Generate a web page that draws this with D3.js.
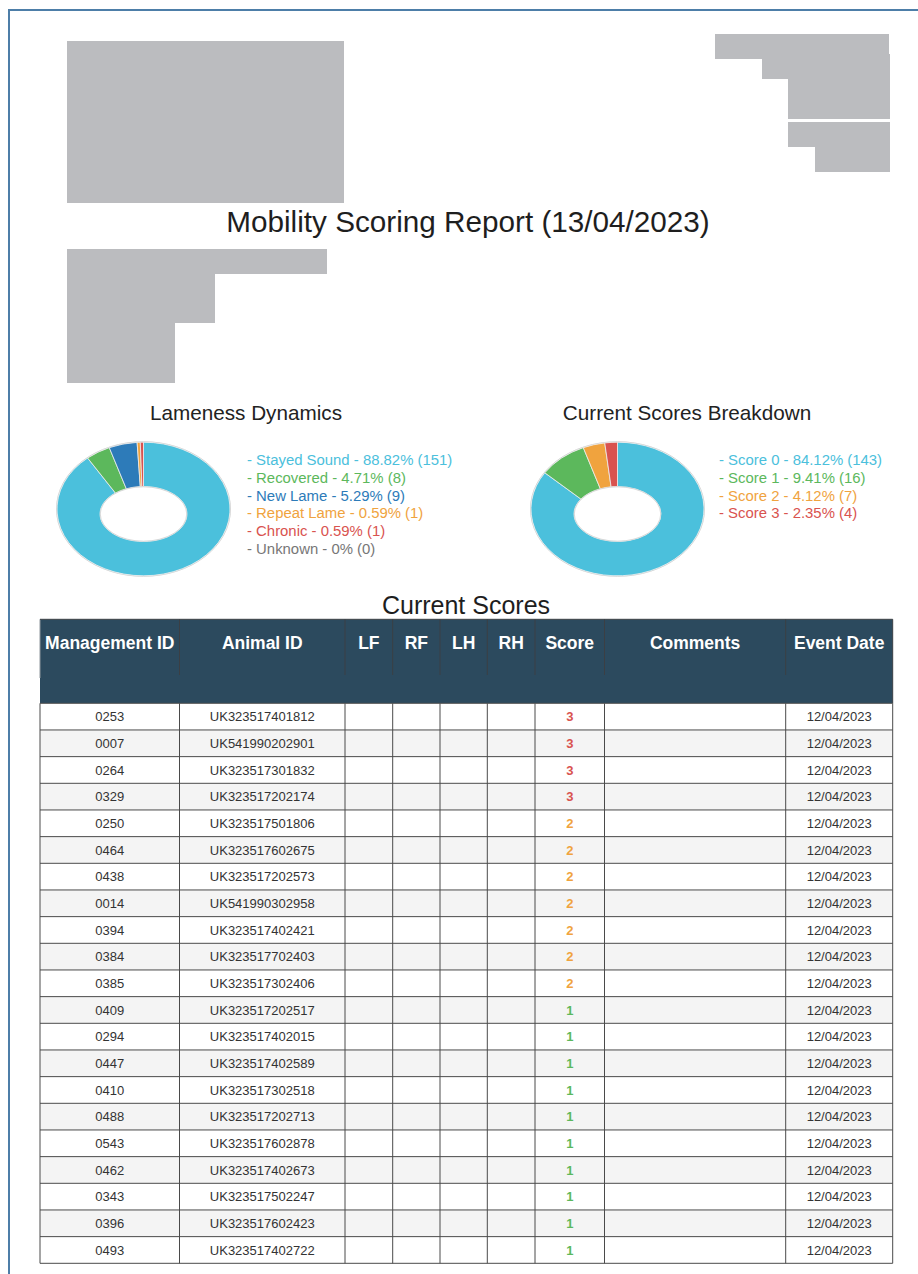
<!DOCTYPE html>
<html>
<head>
<meta charset="utf-8">
<script src="https://cdn.jsdelivr.net/npm/d3@7/dist/d3.min.js"></script>
<style>
  html, body { margin: 0; padding: 0; background: #fff; }
  svg { display: block; font-family: "Liberation Sans", Arial, Helvetica, sans-serif; }
</style>
</head>
<body>
<svg id="page" width="918" height="1274"></svg>
<script>
// ---------------- DATA ----------------
const reportTitle = "Mobility Scoring Report (13/04/2023)";

const lamenessTitle = "Lameness Dynamics";
const lamenessLabels = ["Stayed Sound", "Recovered", "New Lame", "Repeat Lame", "Chronic", "Unknown"];
const lamenessCounts = [151, 8, 9, 1, 1, 0];
const lamenessColors = ["#4bc0dc", "#5cb85c", "#2d7bb9", "#f0a33e", "#d9534f", "#777777"];

const scoresTitle = "Current Scores Breakdown";
const scoreLabels = ["Score 0", "Score 1", "Score 2", "Score 3"];
const scoreCounts = [143, 16, 7, 4];
const scoreColors = ["#4bc0dc", "#5cb85c", "#f0a33e", "#d9534f"];

const tableTitle = "Current Scores";
const tableHeaders = ["Management ID", "Animal ID", "LF", "RF", "LH", "RH", "Score", "Comments", "Event Date"];
const managementIds = ["0253","0007","0264","0329","0250","0464","0438","0014","0394","0384","0385",
                       "0409","0294","0447","0410","0488","0543","0462","0343","0396","0493"];
const animalIds = ["UK323517401812","UK541990202901","UK323517301832","UK323517202174","UK323517501806",
                   "UK323517602675","UK323517202573","UK541990302958","UK323517402421","UK323517702403",
                   "UK323517302406","UK323517202517","UK323517402015","UK323517402589","UK323517302518",
                   "UK323517202713","UK323517602878","UK323517402673","UK323517502247","UK323517602423",
                   "UK323517402722"];
const scores = [3,3,3,3,2,2,2,2,2,2,2,1,1,1,1,1,1,1,1,1,1];
const eventDates = Array(21).fill("12/04/2023");

// ---------------- LAYOUT ----------------
const svg = d3.select("#page");

// page frame (blue left/top border)
svg.append("line").attr("x1", 9).attr("x2", 918).attr("y1", 10).attr("y2", 10)
  .attr("stroke", "#4d7ea8").attr("stroke-width", 2);
svg.append("line").attr("x1", 9).attr("x2", 9).attr("y1", 9).attr("y2", 1274)
  .attr("stroke", "#4d7ea8").attr("stroke-width", 2);

// redacted blocks (grey)
const redacted = [
  [67, 41, 277, 162],
  [715, 34, 174, 25], [762, 54, 128, 25], [788, 79, 102, 40],
  [788, 122, 102, 25], [815, 147, 75, 25],
  [67, 249, 260, 25], [67, 274, 148, 49], [67, 323, 108, 60]
];
svg.append("g").selectAll("rect").data(redacted).join("rect")
  .attr("x", d => d[0]).attr("y", d => d[1]).attr("width", d => d[2]).attr("height", d => d[3])
  .attr("fill", "#bbbcbf");

// main title
svg.append("text").attr("x", 468).attr("y", 232).attr("text-anchor", "middle")
  .attr("font-size", 29.7).attr("fill", "#1e1e1e").text(reportTitle);

// ---------------- DONUTS ----------------
function ellipseSlice(d, c) {
  const a0 = d.startAngle, a1 = d.endAngle;
  const large = (a1 - a0) > Math.PI ? 1 : 0;
  const op = a => [c.cx + c.Rx * Math.sin(a), c.cy - c.Ry * Math.cos(a)];
  const ip = a => [c.cx + c.rx * Math.sin(a), c.cy + c.dy - c.ry * Math.cos(a)];
  const o0 = op(a0), o1 = op(a1), i0 = ip(a0), i1 = ip(a1);
  return `M${o0[0]},${o0[1]}A${c.Rx},${c.Ry} 0 ${large} 1 ${o1[0]},${o1[1]}` +
         `L${i1[0]},${i1[1]}A${c.rx},${c.ry} 0 ${large} 0 ${i0[0]},${i0[1]}Z`;
}

function donut(cfg) {
  const g = svg.append("g");
  g.append("text").attr("x", cfg.titleX).attr("y", 420).attr("text-anchor", "middle")
    .attr("font-size", 20.7).attr("fill", "#222").text(cfg.title);

  const total = d3.sum(cfg.counts);
  const items = cfg.labels.map((l, i) => ({label: l, value: cfg.counts[i], color: cfg.colors[i]}));
  const pie = d3.pie().sort(null).value(d => d.value).startAngle(0).endAngle(2 * Math.PI);
  const arcs = pie(items).filter(d => d.endAngle - d.startAngle > 0);

  const geom = {cx: cfg.cx, cy: 509, Rx: 86.5, Ry: 66.8, rx: 43.5, ry: 27.5, dy: 5};
  g.append("ellipse").attr("cx", geom.cx).attr("cy", geom.cy).attr("rx", geom.Rx + 0.5).attr("ry", geom.Ry + 0.5)
    .attr("fill", "none").attr("stroke", "#cfcfcf").attr("stroke-width", 1);
  g.selectAll("path.slice").data(arcs).join("path").attr("class", "slice")
    .attr("d", d => ellipseSlice(d, geom))
    .attr("fill", d => d.data.color)
    .attr("stroke", "#eeeeee").attr("stroke-width", 0.8);
  g.append("ellipse").attr("cx", geom.cx).attr("cy", geom.cy + geom.dy).attr("rx", geom.rx - 0.3).attr("ry", geom.ry - 0.3)
    .attr("fill", "none").attr("stroke", "#d2d2d2").attr("stroke-width", 0.8);

  const fmt = v => {
    const p = Math.round(v / total * 10000) / 100;
    return (p === 0 ? "0" : p.toString()) + "%";
  };
  const ly = d3.scaleLinear().domain([0, 1]).range([465, 482.75]);
  g.selectAll("text.leg").data(items).join("text").attr("class", "leg")
    .attr("x", cfg.legendX).attr("y", (d, i) => ly(i))
    .attr("font-size", 14.9).attr("fill", d => d.color)
    .text(d => `- ${d.label} - ${fmt(d.value)} (${d.value})`);
}

donut({title: lamenessTitle, titleX: 246, cx: 143.5, legendX: 247,
       labels: lamenessLabels, counts: lamenessCounts, colors: lamenessColors});
donut({title: scoresTitle, titleX: 687, cx: 617.5, legendX: 719,
       labels: scoreLabels, counts: scoreCounts, colors: scoreColors});

// ---------------- TABLE ----------------
svg.append("text").attr("x", 466).attr("y", 613.5).attr("text-anchor", "middle")
  .attr("font-size", 25).attr("fill", "#1e1e1e").text(tableTitle);

const colEdges = [40, 179.5, 345, 392.7, 440, 487.3, 535, 604.5, 785.7, 892.7];
const headTop = 619.3, headBottom = 703.3, headSepBottom = 675;
const rows = managementIds.map((m, i) => ({m, a: animalIds[i], s: scores[i], e: eventDates[i]}));
const y = d3.scaleBand().domain(d3.range(rows.length)).range([headBottom, 1263.3]);
const scoreColor = d3.scaleOrdinal().domain([0, 1, 2, 3]).range(["#4bc0dc", "#5cb85c", "#f0a33e", "#d9534f"]);

const tg = svg.append("g");
// header
tg.append("rect").attr("x", colEdges[0]).attr("y", headTop)
  .attr("width", colEdges[colEdges.length - 1] - colEdges[0]).attr("height", headBottom - headTop)
  .attr("fill", "#2c4a5e");
tg.selectAll("line.hsep").data(colEdges.slice(1, -1)).join("line").attr("class", "hsep")
  .attr("x1", d => d).attr("x2", d => d).attr("y1", headTop).attr("y2", headSepBottom)
  .attr("stroke", "#3b3f44").attr("stroke-width", 1);
tg.append("line").attr("x1", colEdges[0]).attr("x2", colEdges[0]).attr("y1", headTop).attr("y2", headSepBottom + 3)
  .attr("stroke", "#8e969c").attr("stroke-width", 1);
tg.append("line").attr("x1", colEdges[9]).attr("x2", colEdges[9]).attr("y1", headTop).attr("y2", headBottom)
  .attr("stroke", "#3b3f44").attr("stroke-width", 1);
tg.append("line").attr("x1", colEdges[0]).attr("x2", colEdges[9]).attr("y1", headTop).attr("y2", headTop)
  .attr("stroke", "#3b3f44").attr("stroke-width", 1);
tg.selectAll("text.hd").data(tableHeaders).join("text").attr("class", "hd")
  .attr("x", (d, i) => (colEdges[i] + colEdges[i + 1]) / 2).attr("y", 649.3)
  .attr("text-anchor", "middle").attr("font-size", 17.5).attr("font-weight", "bold")
  .attr("fill", "#ffffff").text(d => d);

// body rows
const rg = tg.selectAll("g.row").data(rows).join("g").attr("class", "row");
rg.append("rect").attr("x", colEdges[0]).attr("y", (d, i) => y(i))
  .attr("width", colEdges[9] - colEdges[0]).attr("height", y.bandwidth())
  .attr("fill", (d, i) => i % 2 ? "#f4f4f4" : "#ffffff");
const cellText = (sel, col, fn) => sel.append("text")
  .attr("x", (colEdges[col] + colEdges[col + 1]) / 2)
  .attr("y", (d, i) => y(i) + y.bandwidth() / 2 + 4.6)
  .attr("text-anchor", "middle").attr("font-size", 13).attr("fill", "#333").text(fn);
cellText(rg, 0, d => d.m);
cellText(rg, 1, d => d.a);
cellText(rg, 6, d => d.s).attr("fill", d => scoreColor(d.s)).attr("font-weight", "bold");
cellText(rg, 8, d => d.e);

// grid lines
tg.selectAll("line.hgrid").data(d3.range(rows.length + 1)).join("line").attr("class", "hgrid")
  .attr("x1", colEdges[0]).attr("x2", colEdges[9])
  .attr("y1", i => i === rows.length ? y(i - 1) + y.bandwidth() : y(i))
  .attr("y2", i => i === rows.length ? y(i - 1) + y.bandwidth() : y(i))
  .attr("stroke", "#4a4a4a").attr("stroke-width", 1);
tg.selectAll("line.vgrid").data(colEdges).join("line").attr("class", "vgrid")
  .attr("x1", d => d).attr("x2", d => d).attr("y1", headBottom).attr("y2", y(rows.length - 1) + y.bandwidth())
  .attr("stroke", "#4a4a4a").attr("stroke-width", 1);
</script>
</body>
</html>
